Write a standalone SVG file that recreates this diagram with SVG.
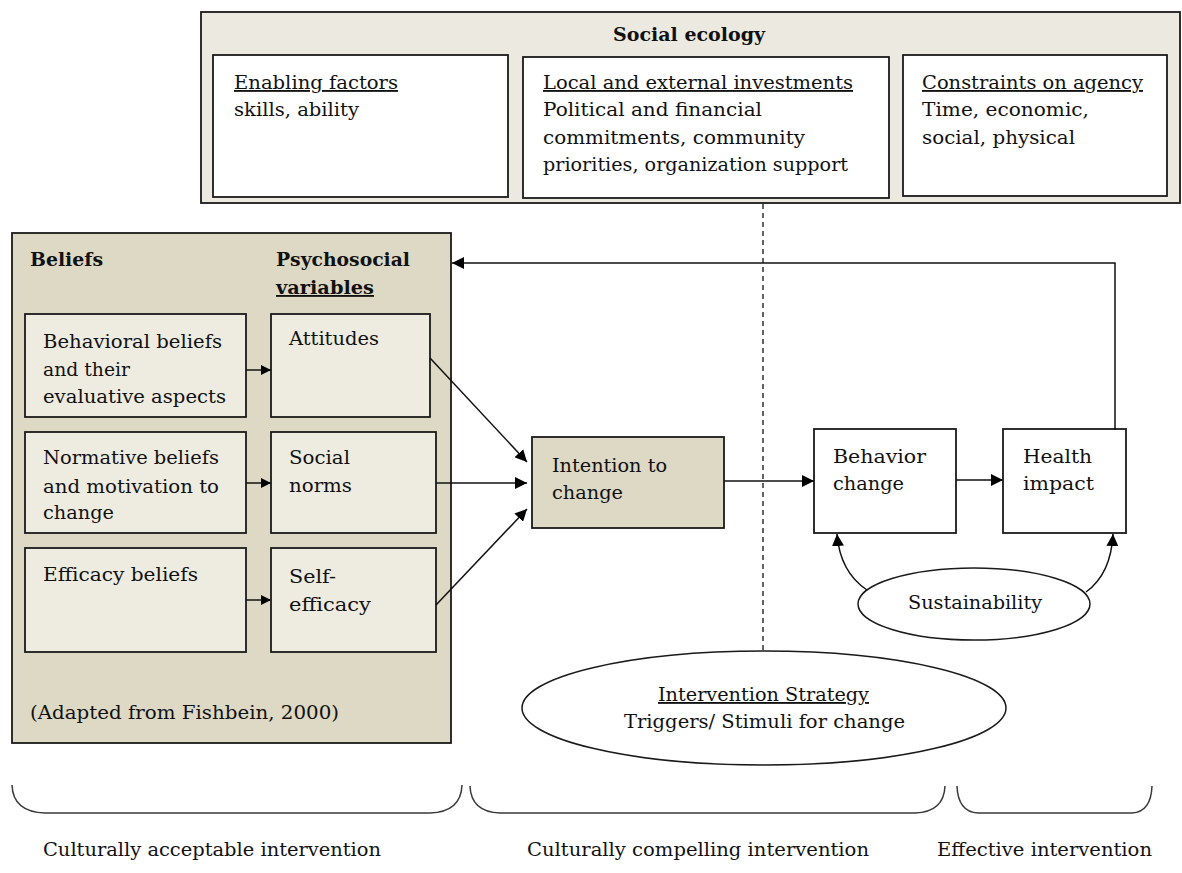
<svg xmlns="http://www.w3.org/2000/svg" width="1182" height="873" viewBox="0 0 1182 873">
<style>
text{font-family:"DejaVu Serif","Liberation Serif",serif;font-size:18.5px;fill:#111;}
.b{font-weight:bold;}
.u{text-decoration:underline;}
.box{stroke:#1a1a1a;stroke-width:1.8;}
.white{fill:#ffffff;}
.eco{fill:#ECEAE0;}
.tan{fill:#DDD9C4;}
.light{fill:#EEECE1;}
.ln{stroke:#111;stroke-width:1.5;fill:none;}
.brace{stroke:#3a3a3a;stroke-width:1.5;fill:none;}
</style>
<defs>
<marker id="ah" viewBox="0 0 10 10" refX="10" refY="5" markerWidth="10" markerHeight="10" markerUnits="userSpaceOnUse" orient="auto">
<path d="M0,0 L10,5 L0,10 z" fill="#000"/>
</marker>
<marker id="ahL" viewBox="0 0 10 10" refX="10" refY="5" markerWidth="12" markerHeight="12" markerUnits="userSpaceOnUse" orient="auto">
<path d="M0,0 L10,5 L0,10 z" fill="#000"/>
</marker>
</defs>
<rect width="1182" height="873" fill="#fff"/>

<g id="social-ecology">
<rect class="box eco" x="201" y="12" width="979" height="191"/>
<text class="b" x="613" y="41" textLength="152" lengthAdjust="spacingAndGlyphs">Social ecology</text>
</g>
<g id="enabling-factors">
<rect class="box white" x="213" y="55" width="295" height="142"/>
<text class="u" x="234" y="89" textLength="164" lengthAdjust="spacingAndGlyphs">Enabling factors</text>
<text x="234" y="116" textLength="125" lengthAdjust="spacingAndGlyphs">skills,  ability</text>
</g>
<g id="investments">
<rect class="box white" x="523" y="57" width="366" height="141"/>
<text class="u" x="543" y="89" textLength="310" lengthAdjust="spacingAndGlyphs">Local and external investments</text>
<text x="543" y="116" textLength="219" lengthAdjust="spacingAndGlyphs">Political  and financial</text>
<text x="543" y="144" textLength="262" lengthAdjust="spacingAndGlyphs">commitments, community</text>
<text x="543" y="171" textLength="305" lengthAdjust="spacingAndGlyphs">priorities,  organization support</text>
</g>
<g id="constraints">
<rect class="box white" x="903" y="55" width="264" height="141"/>
<text class="u" x="922" y="89" textLength="221" lengthAdjust="spacingAndGlyphs">Constraints on agency</text>
<text x="922" y="116" textLength="167" lengthAdjust="spacingAndGlyphs">Time, economic,</text>
<text x="922" y="144" textLength="153" lengthAdjust="spacingAndGlyphs">social, physical</text>
</g>

<g id="beliefs-panel">
<rect class="box tan" x="12" y="233" width="439" height="510"/>
<text class="b" x="30" y="266" textLength="73" lengthAdjust="spacingAndGlyphs">Beliefs</text>
<text class="b" x="276" y="266" textLength="134" lengthAdjust="spacingAndGlyphs">Psychosocial</text>
<text class="b u" x="276" y="294" textLength="98" lengthAdjust="spacingAndGlyphs">variables</text>
<text x="30" y="719" textLength="309" lengthAdjust="spacingAndGlyphs">(Adapted from Fishbein,  2000)</text>
</g>
<g id="behavioral-beliefs">
<rect class="box light" x="25" y="314" width="221" height="103"/>
<text x="43" y="348" textLength="179" lengthAdjust="spacingAndGlyphs">Behavioral beliefs</text>
<text x="43" y="376" textLength="87" lengthAdjust="spacingAndGlyphs">and their</text>
<text x="43" y="403" textLength="183" lengthAdjust="spacingAndGlyphs">evaluative aspects</text>
</g>
<g id="attitudes">
<rect class="box light" x="271" y="314" width="159" height="103"/>
<text x="289" y="345" textLength="90" lengthAdjust="spacingAndGlyphs">Attitudes</text>
</g>
<g id="normative-beliefs">
<rect class="box light" x="25" y="432" width="221" height="101"/>
<text x="43" y="464" textLength="176" lengthAdjust="spacingAndGlyphs">Normative beliefs</text>
<text x="43" y="493" textLength="176" lengthAdjust="spacingAndGlyphs">and motivation to</text>
<text x="43" y="519" textLength="71" lengthAdjust="spacingAndGlyphs">change</text>
</g>
<g id="social-norms">
<rect class="box light" x="271" y="432" width="165" height="101"/>
<text x="289" y="464" textLength="61" lengthAdjust="spacingAndGlyphs">Social</text>
<text x="289" y="492" textLength="63" lengthAdjust="spacingAndGlyphs">norms</text>
</g>
<g id="efficacy-beliefs">
<rect class="box light" x="25" y="548" width="221" height="104"/>
<text x="43" y="581" textLength="155" lengthAdjust="spacingAndGlyphs">Efficacy beliefs</text>
</g>
<g id="self-efficacy">
<rect class="box light" x="271" y="548" width="165" height="104"/>
<text x="289" y="583" textLength="47" lengthAdjust="spacingAndGlyphs">Self-</text>
<text x="289" y="611" textLength="82" lengthAdjust="spacingAndGlyphs">efficacy</text>
</g>

<g id="intention">
<rect class="box tan" x="532" y="437" width="192" height="91"/>
<text x="552" y="472" textLength="115" lengthAdjust="spacingAndGlyphs">Intention to</text>
<text x="552" y="499" textLength="71" lengthAdjust="spacingAndGlyphs">change</text>
</g>
<g id="behavior-change">
<rect class="box white" x="814" y="429" width="142" height="104"/>
<text x="833" y="463" textLength="93" lengthAdjust="spacingAndGlyphs">Behavior</text>
<text x="833" y="490" textLength="71" lengthAdjust="spacingAndGlyphs">change</text>
</g>
<g id="health-impact">
<rect class="box white" x="1003" y="429" width="123" height="104"/>
<text x="1023" y="463" textLength="69" lengthAdjust="spacingAndGlyphs">Health</text>
<text x="1023" y="490" textLength="71" lengthAdjust="spacingAndGlyphs">impact</text>
</g>
<g id="sustainability">
<ellipse cx="974" cy="604" rx="116" ry="36" fill="#fff" stroke="#1a1a1a" stroke-width="1.5"/>
<text x="908" y="609" textLength="134" lengthAdjust="spacingAndGlyphs">Sustainability</text>
</g>
<g id="intervention-strategy">
<ellipse cx="764" cy="708" rx="242" ry="57" fill="#fff" stroke="#1a1a1a" stroke-width="1.5"/>
<text class="u" x="658" y="701" textLength="211" lengthAdjust="spacingAndGlyphs">Intervention Strategy</text>
<text x="624" y="728" textLength="281" lengthAdjust="spacingAndGlyphs">Triggers/  Stimuli  for change</text>
</g>

<g id="connectors">
<line class="ln" x1="246" y1="370" x2="271" y2="370" marker-end="url(#ah)"/>
<line class="ln" x1="246" y1="483" x2="271" y2="483" marker-end="url(#ah)"/>
<line class="ln" x1="246" y1="600" x2="271" y2="600" marker-end="url(#ah)"/>
<line class="ln" x1="430" y1="358" x2="527" y2="462" marker-end="url(#ahL)"/>
<line class="ln" x1="436" y1="483" x2="527" y2="483" marker-end="url(#ahL)"/>
<line class="ln" x1="436" y1="605" x2="527" y2="509" marker-end="url(#ahL)"/>
<line class="ln" x1="724" y1="481" x2="814" y2="481" marker-end="url(#ahL)"/>
<line class="ln" x1="956" y1="480" x2="1003" y2="480" marker-end="url(#ahL)"/>
<polyline class="ln" points="1115,430 1115,263 452,263" marker-end="url(#ahL)"/>
<line x1="763" y1="204" x2="763" y2="651" stroke="#111" stroke-width="1.3" stroke-dasharray="5,4"/>
<path class="ln" d="M867,590 Q840,572 837,534" marker-end="url(#ahL)"/>
<path class="ln" d="M1086,592 Q1111,574 1113,534" marker-end="url(#ahL)"/>
</g>

<g id="braces">
<path class="brace" d="M12,785 Q13,812 45,813 L430,813 Q461,812 462,785"/>
<path class="brace" d="M470,786 Q471,812 500,813 L915,813 Q944,812 945,786"/>
<path class="brace" d="M957,786 Q958,812 978,813 L1132,813 Q1151,812 1152,786"/>
<text x="43" y="856" textLength="338" lengthAdjust="spacingAndGlyphs">Culturally acceptable intervention</text>
<text x="527" y="856" textLength="342" lengthAdjust="spacingAndGlyphs">Culturally compelling intervention</text>
<text x="937" y="856" textLength="215" lengthAdjust="spacingAndGlyphs">Effective intervention</text>
</g>
</svg>
